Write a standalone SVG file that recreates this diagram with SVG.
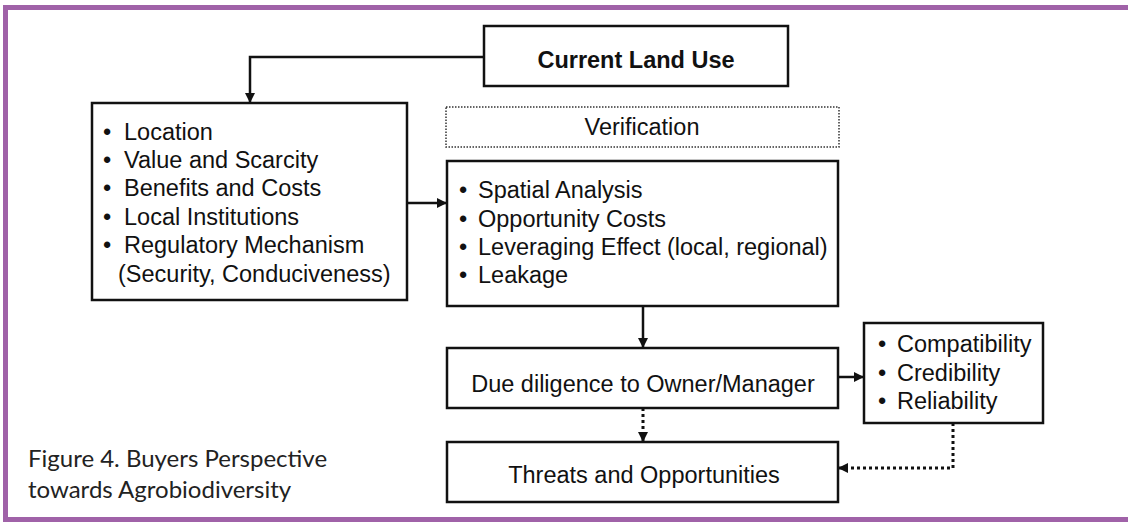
<svg xmlns="http://www.w3.org/2000/svg" width="1128" height="522" viewBox="0 0 1128 522">
<defs>
<style>
.box{fill:#fff;stroke:#111;stroke-width:2.5}
.vbox{fill:#fff;stroke:#333;stroke-width:1.5;stroke-dasharray:1.5 1.5}
.t{font-family:"Liberation Sans",Arial,sans-serif;font-size:23.5px;fill:#111}
.b{font-weight:bold}
.c{text-anchor:middle}
.ln{fill:none;stroke:#111;stroke-width:2.5}
.dl{fill:none;stroke:#111;stroke-width:3;stroke-dasharray:3 3}
.cap{font-family:Lato,"Open Sans",sans-serif;font-size:24px;fill:#222}
</style>
<marker id="ah" markerUnits="userSpaceOnUse" markerWidth="10" markerHeight="10" refX="10" refY="5" orient="auto" viewBox="0 0 10 10">
<path d="M0,0 L10,5 L0,10 z" fill="#111"/>
</marker>
</defs>
<rect x="0" y="0" width="1128" height="522" fill="#fff"/>
<g id="frame" fill="#a062a8">
<rect x="3" y="5" width="1125" height="5"/>
<rect x="3" y="5" width="5" height="517"/>
<rect x="3" y="517" width="1125" height="5"/>
</g>
<g id="connectors">
<path class="ln" d="M484,57 H250 V103" marker-end="url(#ah)"/>
<path class="ln" d="M407,203 H447" marker-end="url(#ah)"/>
<path class="ln" d="M643,306 V348" marker-end="url(#ah)"/>
<path class="ln" d="M838,377 H864" marker-end="url(#ah)"/>
<path class="dl" d="M643,408 V442" marker-end="url(#ah)"/>
<path class="dl" d="M953,423 V468 H838" marker-end="url(#ah)"/>
</g>
<g id="current-land-use">
<rect class="box" x="484" y="26" width="304" height="60"/>
<text class="t b c" x="636" y="68">Current Land Use</text>
</g>
<g id="factors">
<rect class="box" x="92" y="103" width="315" height="197"/>
<text class="t"><tspan x="103" y="140">•</tspan><tspan x="124" y="140">Location</tspan></text>
<text class="t"><tspan x="103" y="168">•</tspan><tspan x="124" y="168">Value and Scarcity</tspan></text>
<text class="t"><tspan x="103" y="196">•</tspan><tspan x="124" y="196">Benefits and Costs</tspan></text>
<text class="t"><tspan x="103" y="225">•</tspan><tspan x="124" y="225">Local Institutions</tspan></text>
<text class="t"><tspan x="103" y="253">•</tspan><tspan x="124" y="253">Regulatory Mechanism</tspan></text>
<text class="t" x="118" y="282">(Security, Conduciveness)</text>
</g>
<g id="verification">
<rect class="vbox" x="446" y="107" width="393" height="40"/>
<text class="t c" x="642" y="135">Verification</text>
</g>
<g id="analysis">
<rect class="box" x="447" y="161" width="391" height="145"/>
<text class="t"><tspan x="459" y="198">•</tspan><tspan x="478" y="198">Spatial Analysis</tspan></text>
<text class="t"><tspan x="459" y="227">•</tspan><tspan x="478" y="227">Opportunity Costs</tspan></text>
<text class="t"><tspan x="459" y="255">•</tspan><tspan x="478" y="255">Leveraging Effect (local, regional)</tspan></text>
<text class="t"><tspan x="459" y="283">•</tspan><tspan x="478" y="283">Leakage</tspan></text>
</g>
<g id="due-diligence">
<rect class="box" x="447" y="348" width="391" height="60"/>
<text class="t c" x="643" y="392">Due diligence to Owner/Manager</text>
</g>
<g id="criteria">
<rect class="box" x="864" y="323" width="179" height="100"/>
<text class="t"><tspan x="878" y="352">•</tspan><tspan x="897" y="352">Compatibility</tspan></text>
<text class="t"><tspan x="878" y="381">•</tspan><tspan x="897" y="381">Credibility</tspan></text>
<text class="t"><tspan x="878" y="409">•</tspan><tspan x="897" y="409">Reliability</tspan></text>
</g>
<g id="threats">
<rect class="box" x="447" y="442" width="391" height="60"/>
<text class="t c" x="644" y="483">Threats and Opportunities</text>
</g>
<g id="caption">
<text class="cap" x="28" y="467">Figure 4. Buyers Perspective</text>
<text class="cap" x="28" y="498">towards Agrobiodiversity</text>
</g>
</svg>
